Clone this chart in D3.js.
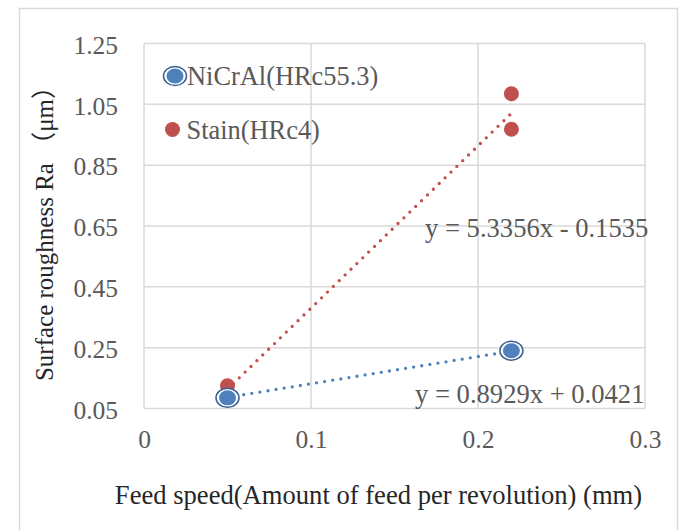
<!DOCTYPE html>
<html>
<head>
<meta charset="utf-8">
<script src="https://cdn.jsdelivr.net/npm/d3@7"></script>
<style>
  html, body { margin: 0; padding: 0; background: #fff; }
  svg { display: block; }
  text { font-family: "Liberation Serif", "Times New Roman", "Noto Sans CJK JP", serif; }
</style>
</head>
<body>
<svg id="chart" width="681" height="530"></svg>
<script>
// Measured surface roughness for two materials
const seriesNames = ["NiCrAl(HRc55.3)", "Stain(HRc4)"];
const nicralFeed = [0.05, 0.22];
const nicralRa = [0.085, 0.24];
const stainFeed = [0.05, 0.05, 0.22, 0.22];
const stainRa = [0.125, 0.10, 1.085, 0.968];

// Linear trend lines (slope, intercept) as reported on the chart
const nicralTrend = [0.8929, 0.0421];
const stainTrend = [5.3356, -0.1535];
const trendLabels = ["y = 0.8929x + 0.0421", "y = 5.3356x - 0.1535"];

const xTicks = [0, 0.1, 0.2, 0.3];
const yTicks = [0.05, 0.25, 0.45, 0.65, 0.85, 1.05, 1.25];

const xTitle = "Feed speed(Amount of feed per revolution) (mm)";
const yTitle = "Surface roughness Ra （μm）";

const svg = d3.select("#chart");
const plot = { left: 144, right: 645, top: 43.5, bottom: 408.5 };

const blue = "#4f81bd", blueRing = "#3c5f8f", red = "#c0504d";
const grid = "#d9d9d9", tickColor = "#595959", titleColor = "#262626";

// Chart frame
svg.append("rect")
  .attr("x", 19.5).attr("y", 8.5).attr("width", 658).attr("height", 540)
  .attr("fill", "#fff").attr("stroke", "#d9d9d9").attr("stroke-width", 1.5);

const x = d3.scaleLinear().domain([0, 0.3]).range([plot.left, plot.right]);
const y = d3.scaleLinear().domain([0.05, 1.25]).range([plot.bottom, plot.top]);

// Gridlines
const g = svg.append("g");
g.selectAll(".hg").data(yTicks).join("line")
  .attr("x1", plot.left).attr("x2", plot.right)
  .attr("y1", d => y(d)).attr("y2", d => y(d))
  .attr("stroke", grid).attr("stroke-width", 1.5);
g.selectAll(".vg").data(xTicks).join("line")
  .attr("y1", plot.top).attr("y2", plot.bottom)
  .attr("x1", d => x(d)).attr("x2", d => x(d))
  .attr("stroke", grid).attr("stroke-width", 1.5);

// Axes (labels only; gridlines draw the frame)
const xAxis = svg.append("g")
  .attr("transform", `translate(0,${plot.bottom + 18})`)
  .call(d3.axisBottom(x).tickValues(xTicks).tickSize(0).tickFormat(d3.format("")));
xAxis.select(".domain").remove();
xAxis.selectAll("text").attr("font-size", 25.5).attr("fill", tickColor)
  .attr("font-family", "Liberation Serif");

const yAxis = svg.append("g")
  .attr("transform", `translate(${plot.left - 23},1.5)`)
  .call(d3.axisLeft(y).tickValues(yTicks).tickSize(0).tickFormat(d3.format(".2f")));
yAxis.select(".domain").remove();
yAxis.selectAll("text").attr("font-size", 25.5).attr("fill", tickColor)
  .attr("font-family", "Liberation Serif");

// Trend lines over the measured feed range
function trendLine(coef, xs, color) {
  const [m, b] = coef;
  const x0 = d3.min(xs), x1 = d3.max(xs);
  svg.append("line")
    .attr("x1", x(x0)).attr("y1", y(m * x0 + b))
    .attr("x2", x(x1)).attr("y2", y(m * x1 + b))
    .attr("stroke", color).attr("stroke-width", 3.3)
    .attr("stroke-linecap", "round").attr("stroke-dasharray", "0 8.2");
}
trendLine(stainTrend, stainFeed, red);
trendLine(nicralTrend, nicralFeed, blue);

// Stain points
const stainPts = stainFeed.map((f, i) => ({ f, r: stainRa[i] }));
svg.selectAll(".stain").data(stainPts).join("circle")
  .attr("cx", d => x(d.f)).attr("cy", d => y(d.r)).attr("r", 7.5)
  .attr("fill", red);

// NiCrAl points: filled marker with an outer ring
function ringMarker(sel) {
  sel.append("ellipse").attr("rx", 11.5).attr("ry", 9.5)
    .attr("fill", "#fff").attr("stroke", blueRing).attr("stroke-width", 1.5);
  sel.append("ellipse").attr("rx", 8.5).attr("ry", 7.5).attr("fill", blue);
}
const nicralPts = nicralFeed.map((f, i) => ({ f, r: nicralRa[i] }));
svg.selectAll(".nicral").data(nicralPts).join("g")
  .attr("transform", d => `translate(${x(d.f)},${y(d.r)})`)
  .call(ringMarker);

// Trend equations
svg.append("text").attr("x", 425).attr("y", 237)
  .attr("font-size", 26.6).attr("fill", tickColor).text(trendLabels[1]);
svg.append("text").attr("x", 415).attr("y", 403)
  .attr("font-size", 26.6).attr("fill", tickColor).text(trendLabels[0]);

// Legend
const leg = svg.append("g");
leg.append("g").attr("transform", "translate(175,76)").call(ringMarker);
leg.append("text").attr("x", 187).attr("y", 84.5)
  .attr("font-size", 26.4).attr("fill", tickColor).text(seriesNames[0]);
leg.append("circle").attr("cx", 172.5).attr("cy", 129.5).attr("r", 7.5).attr("fill", red);
leg.append("text").attr("x", 186.5).attr("y", 139)
  .attr("font-size", 26.4).attr("fill", tickColor).text(seriesNames[1]);

// Axis titles
svg.append("text").attr("x", 378.5).attr("y", 504)
  .attr("text-anchor", "middle").attr("font-size", 26.6).attr("fill", titleColor)
  .text(xTitle);
svg.append("text")
  .attr("transform", "translate(53,227.5) rotate(-90)")
  .attr("text-anchor", "middle").attr("font-size", 25).attr("fill", titleColor)
  .text(yTitle);
</script>
</body>
</html>
